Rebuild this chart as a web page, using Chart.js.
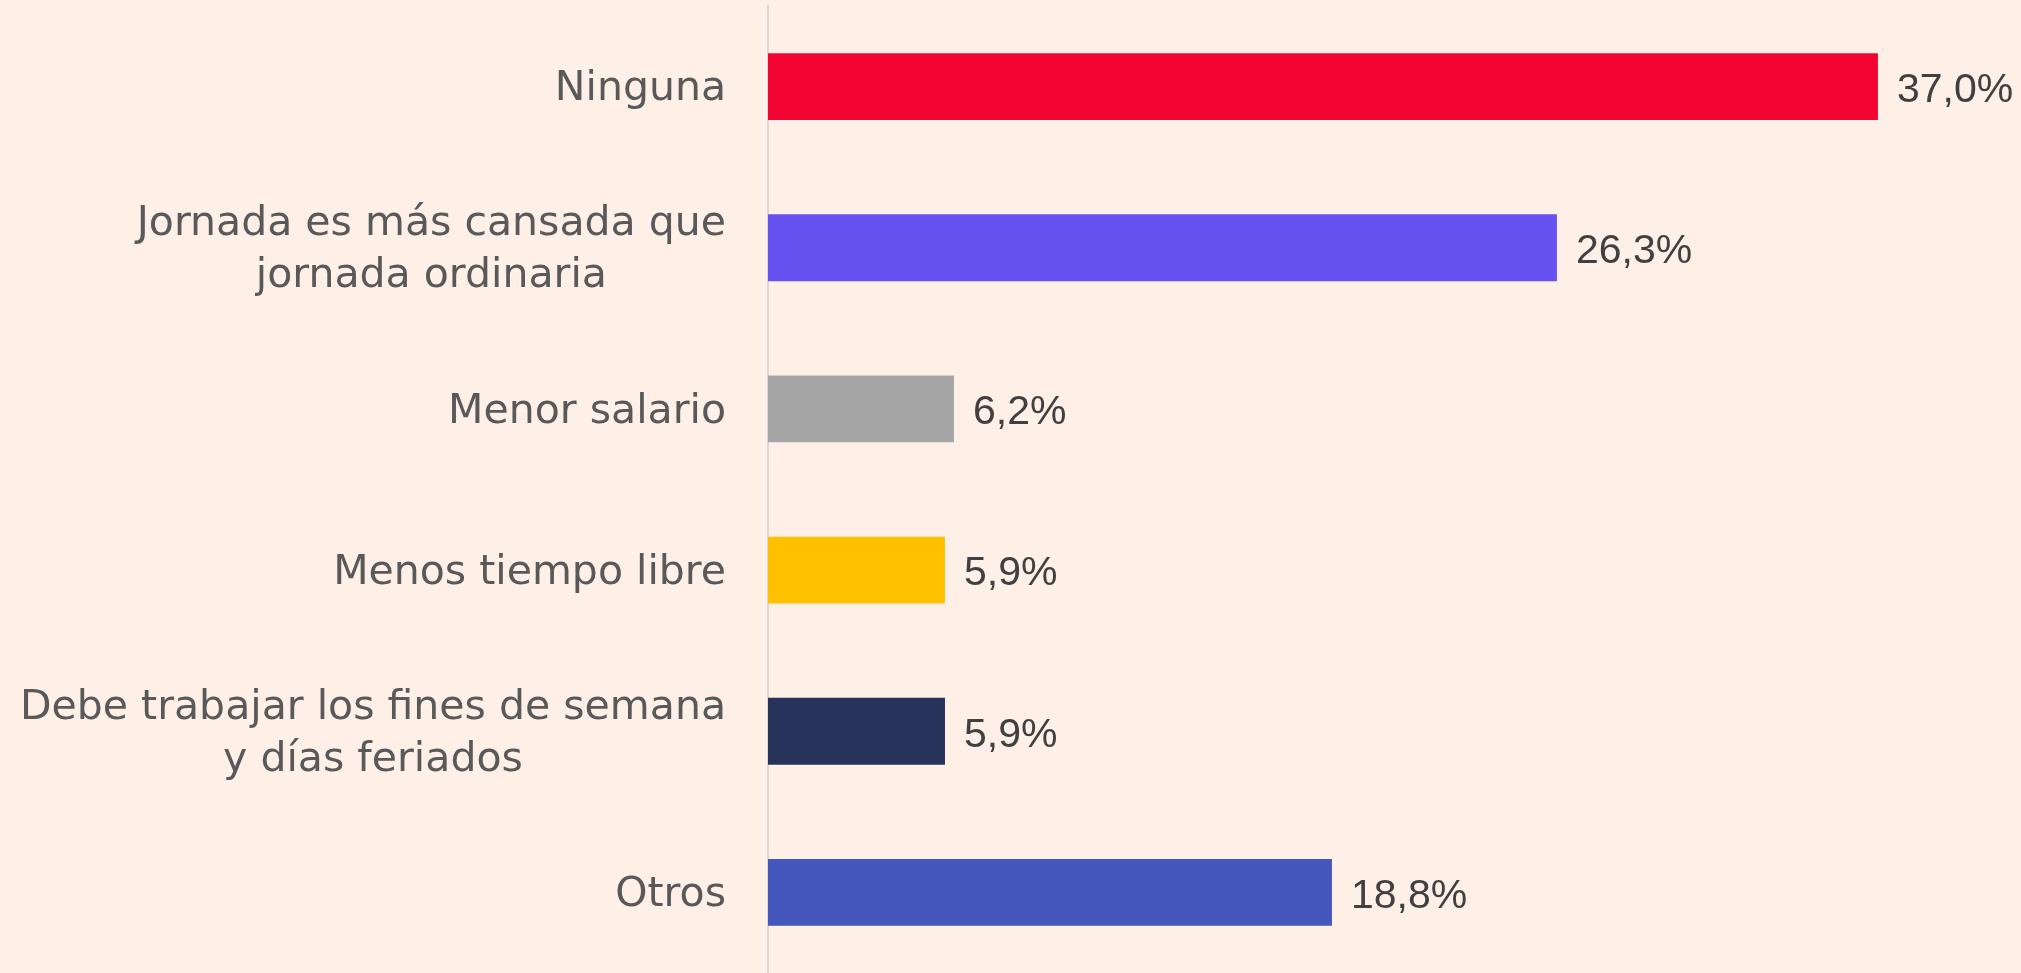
<!DOCTYPE html>
<html>
<head>
<meta charset="utf-8">
<script src="https://cdn.jsdelivr.net/npm/chart.js@4"></script>
<style>
    html, body { margin: 0; padding: 0; background: #fef0e6; }
    #wrap { width: 2021px; height: 973px; }
</style>
</head>
<body>
<div id="wrap"><canvas id="myChart" width="2021" height="973"></canvas></div>
<script>
// datos del gráfico
var categorias = [
    'Ninguna',
    ['Jornada es más cansada que', 'jornada ordinaria'],
    'Menor salario',
    'Menos tiempo libre',
    ['Debe trabajar los fines de semana', 'y días feriados'],
    'Otros'
];
var porcentajes = [37.0, 26.3, 6.2, 5.9, 5.9, 18.8];
var colores = ['#f20530', '#6652f0', '#a6a6a6', '#ffc000', '#263259', '#4457bd'];

// etiquetas de categoría: bloque alineado a la derecha, líneas centradas
var categoryLabels = {
    id: 'categoryLabels',
    afterDraw: function(chart) {
        var ctx = chart.ctx;
        var yScale = chart.scales.y;
        var right = yScale.right - 42;
        var lineH = 52;
        ctx.save();
        ctx.font = '41px "DejaVu Sans"';
        ctx.fillStyle = '#595959';
        ctx.textAlign = 'center';
        ctx.textBaseline = 'middle';
        categorias.forEach(function(cat, i) {
            var lines = Array.isArray(cat) ? cat : [cat];
            var widest = 0;
            lines.forEach(function(l) { widest = Math.max(widest, ctx.measureText(l).width); });
            var cx = right - widest / 2;
            var cy = yScale.getPixelForValue(i) + 3;
            var y0 = cy - (lines.length - 1) * lineH / 2;
            lines.forEach(function(l, j) {
                ctx.fillText(l, cx, y0 + j * lineH);
            });
        });
        ctx.restore();
    }
};

// etiquetas de valor al final de cada barra
var valueLabels = {
    id: 'valueLabels',
    afterDatasetsDraw: function(chart) {
        var ctx = chart.ctx;
        var meta = chart.getDatasetMeta(0);
        ctx.save();
        ctx.font = '41px "Liberation Sans"';
        ctx.fillStyle = '#404040';
        ctx.textAlign = 'left';
        ctx.textBaseline = 'middle';
        meta.data.forEach(function(bar, i) {
            var txt = porcentajes[i].toFixed(1).replace('.', ',') + '%';
            ctx.fillText(txt, bar.x + 19, bar.y + 4);
        });
        ctx.restore();
    }
};

const ctx = document.getElementById('myChart').getContext('2d');
var myChart = new Chart(ctx, {
    type: 'bar',
    data: {
        labels: categorias,
        datasets: [{
            data: porcentajes,
            backgroundColor: colores,
            borderWidth: 0,
            categoryPercentage: 1,
            barPercentage: 0.415
        }]
    },
    options: {
        indexAxis: 'y',
        responsive: false,
        animation: false,
        layout: { padding: { top: 6, right: 0, bottom: 0, left: 0 } },
        plugins: {
            legend: { display: false },
            tooltip: { enabled: false }
        },
        scales: {
            x: {
                display: false,
                min: 0,
                max: 41.77
            },
            y: {
                afterFit: function(scale) {
                    scale.width = 768;
                    scale.paddingTop = 0;
                    scale.paddingBottom = 0;
                },
                grid: { display: false, drawTicks: false },
                border: { display: true, color: '#d9d9d9', width: 2 },
                ticks: { display: false }
            }
        }
    },
    plugins: [categoryLabels, valueLabels]
});
</script>
</body>
</html>
